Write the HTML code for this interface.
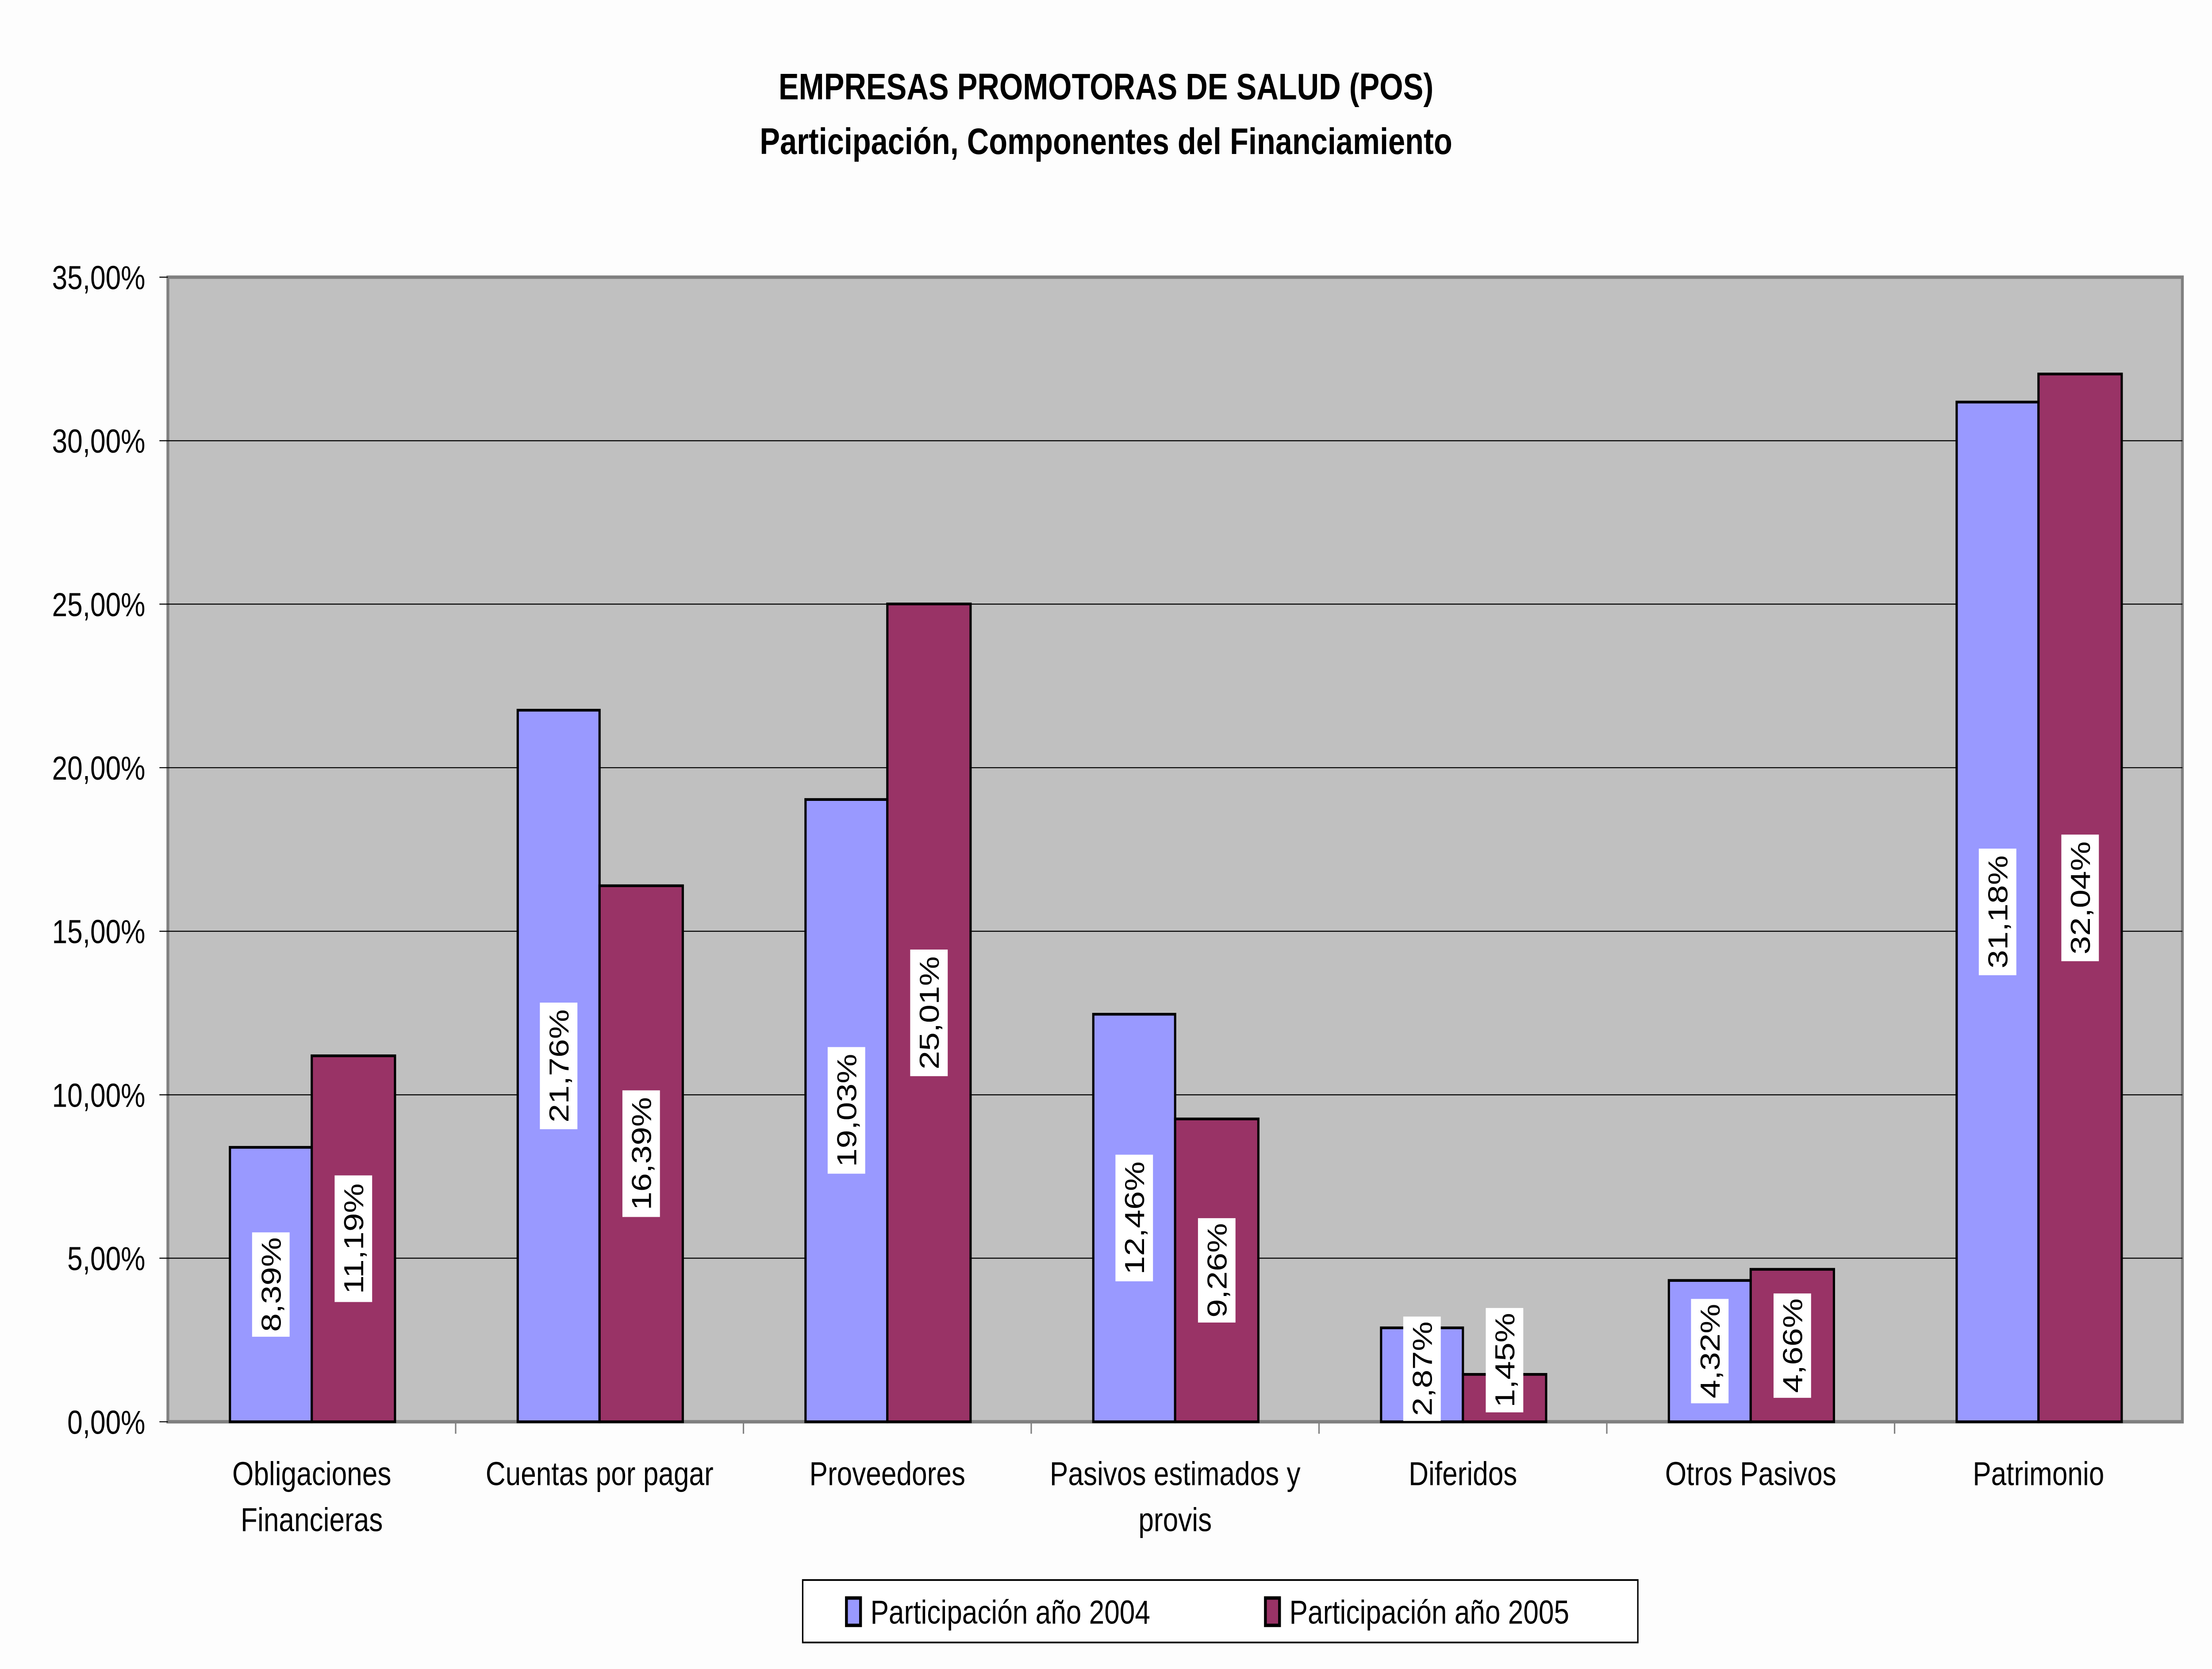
<!DOCTYPE html>
<html><head><meta charset="utf-8"><style>
html,body{margin:0;padding:0;background:#fdfdfd;width:100%;height:100%;overflow:hidden}
svg{display:block;width:100vw;height:100vh}
text{font-family:"Liberation Sans",Arial,sans-serif;fill:#000}
</style></head><body>
<svg viewBox="0 0 1568 975.5" preserveAspectRatio="none" xmlns="http://www.w3.org/2000/svg">
<rect width="1568" height="976" fill="#fdfdfd"/>
<text x="784" y="58" font-size="21.5" font-weight="bold" text-anchor="middle">EMPRESAS PROMOTORAS DE SALUD (POS)</text>
<text x="784" y="90" font-size="21.5" font-weight="bold" text-anchor="middle">Participación, Componentes del Financiamiento</text>
<rect x="119" y="162" width="1428" height="669" fill="#c0c0c0" stroke="#808080" stroke-width="2"/>
<g stroke="#000" stroke-width="0.6">
<line x1="119" x2="1547" y1="257.6" y2="257.6"/>
<line x1="119" x2="1547" y1="353.1" y2="353.1"/>
<line x1="119" x2="1547" y1="448.7" y2="448.7"/>
<line x1="119" x2="1547" y1="544.3" y2="544.3"/>
<line x1="119" x2="1547" y1="639.9" y2="639.9"/>
<line x1="119" x2="1547" y1="735.4" y2="735.4"/>
<line x1="113" x2="119" y1="162" y2="162"/>
<line x1="113" x2="119" y1="257.6" y2="257.6"/>
<line x1="113" x2="119" y1="353.1" y2="353.1"/>
<line x1="113" x2="119" y1="448.7" y2="448.7"/>
<line x1="113" x2="119" y1="544.3" y2="544.3"/>
<line x1="113" x2="119" y1="639.9" y2="639.9"/>
<line x1="113" x2="119" y1="735.4" y2="735.4"/>
<line x1="113" x2="119" y1="831" y2="831"/>
</g>
<g stroke="#808080" stroke-width="1">
<line x1="323" x2="323" y1="831" y2="838"/><line x1="527" x2="527" y1="831" y2="838"/>
<line x1="731" x2="731" y1="831" y2="838"/><line x1="935" x2="935" y1="831" y2="838"/>
<line x1="1139" x2="1139" y1="831" y2="838"/><line x1="1343" x2="1343" y1="831" y2="838"/>
</g>
<g font-size="19.5" text-anchor="end">
<text x="103" y="169">35,00%</text><text x="103" y="264.6">30,00%</text>
<text x="103" y="360.1">25,00%</text><text x="103" y="455.7">20,00%</text>
<text x="103" y="551.3">15,00%</text><text x="103" y="646.9">10,00%</text>
<text x="103" y="742.4">5,00%</text><text x="103" y="838">0,00%</text>
</g>
<g stroke="#000" stroke-width="1.6">
<rect x="163" y="670.6" width="58" height="160.4" fill="#9999ff"/>
<rect x="221" y="617.1" width="59" height="213.9" fill="#993366"/>
<rect x="367" y="415.1" width="58" height="415.9" fill="#9999ff"/>
<rect x="425" y="517.7" width="59" height="313.3" fill="#993366"/>
<rect x="571" y="467.3" width="58" height="363.7" fill="#9999ff"/>
<rect x="629" y="353" width="59" height="478" fill="#993366"/>
<rect x="775" y="592.8" width="58" height="238.2" fill="#9999ff"/>
<rect x="833" y="654" width="59" height="177" fill="#993366"/>
<rect x="979" y="776.1" width="58" height="54.9" fill="#9999ff"/>
<rect x="1037" y="803.3" width="59" height="27.7" fill="#993366"/>
<rect x="1183" y="748.4" width="58" height="82.6" fill="#9999ff"/>
<rect x="1241" y="741.9" width="59" height="89.1" fill="#993366"/>
<rect x="1387" y="235" width="58" height="596" fill="#9999ff"/>
<rect x="1445" y="218.6" width="59" height="612.4" fill="#993366"/>
</g>
<g font-size="19.5" text-anchor="middle">
<g transform="translate(192,750.8) rotate(-90)"><rect x="-30.5" y="-13.3" width="61" height="26.6" fill="#fff"/><text y="7">8,39%</text></g>
<g transform="translate(250.5,724) rotate(-90)"><rect x="-37" y="-13.3" width="74" height="26.6" fill="#fff"/><text y="7">11,19%</text></g>
<g transform="translate(396,623) rotate(-90)"><rect x="-37" y="-13.3" width="74" height="26.6" fill="#fff"/><text y="7">21,76%</text></g>
<g transform="translate(454.5,674.3) rotate(-90)"><rect x="-37" y="-13.3" width="74" height="26.6" fill="#fff"/><text y="7">16,39%</text></g>
<g transform="translate(600,649) rotate(-90)"><rect x="-37" y="-13.3" width="74" height="26.6" fill="#fff"/><text y="7">19,03%</text></g>
<g transform="translate(658.5,592) rotate(-90)"><rect x="-37" y="-13.3" width="74" height="26.6" fill="#fff"/><text y="7">25,01%</text></g>
<g transform="translate(804,711.9) rotate(-90)"><rect x="-37" y="-13.3" width="74" height="26.6" fill="#fff"/><text y="7">12,46%</text></g>
<g transform="translate(862.5,742.5) rotate(-90)"><rect x="-30.5" y="-13.3" width="61" height="26.6" fill="#fff"/><text y="7">9,26%</text></g>
<g transform="translate(1008,800) rotate(-90)"><rect x="-30.5" y="-13.3" width="61" height="26.6" fill="#fff"/><text y="7">2,87%</text></g>
<g transform="translate(1066.5,795) rotate(-90)"><rect x="-30.5" y="-13.3" width="61" height="26.6" fill="#fff"/><text y="7">1,45%</text></g>
<g transform="translate(1212,789.7) rotate(-90)"><rect x="-30.5" y="-13.3" width="61" height="26.6" fill="#fff"/><text y="7">4,32%</text></g>
<g transform="translate(1270.5,786.5) rotate(-90)"><rect x="-30.5" y="-13.3" width="61" height="26.6" fill="#fff"/><text y="7">4,66%</text></g>
<g transform="translate(1416,533) rotate(-90)"><rect x="-37" y="-13.3" width="74" height="26.6" fill="#fff"/><text y="7">31,18%</text></g>
<g transform="translate(1474.5,524.8) rotate(-90)"><rect x="-37" y="-13.3" width="74" height="26.6" fill="#fff"/><text y="7">32,04%</text></g>
</g>
<g font-size="19.5" text-anchor="middle">
<text x="221" y="868">Obligaciones</text><text x="221" y="895">Financieras</text>
<text x="425" y="868">Cuentas por pagar</text>
<text x="629" y="868">Proveedores</text>
<text x="833" y="868">Pasivos estimados y</text><text x="833" y="895">provis</text>
<text x="1037" y="868">Diferidos</text>
<text x="1241" y="868">Otros Pasivos</text>
<text x="1445" y="868">Patrimonio</text>
</g>
<rect x="569" y="923.5" width="592" height="36.5" fill="#fff" stroke="#000" stroke-width="1"/>
<rect x="600" y="934" width="10" height="16" fill="#9999ff" stroke="#000" stroke-width="2"/>
<text x="617" y="949" font-size="19.5">Participación año 2004</text>
<rect x="897" y="934" width="10" height="16" fill="#993366" stroke="#000" stroke-width="2"/>
<text x="914" y="949" font-size="19.5">Participación año 2005</text>
</svg>
</body></html>
